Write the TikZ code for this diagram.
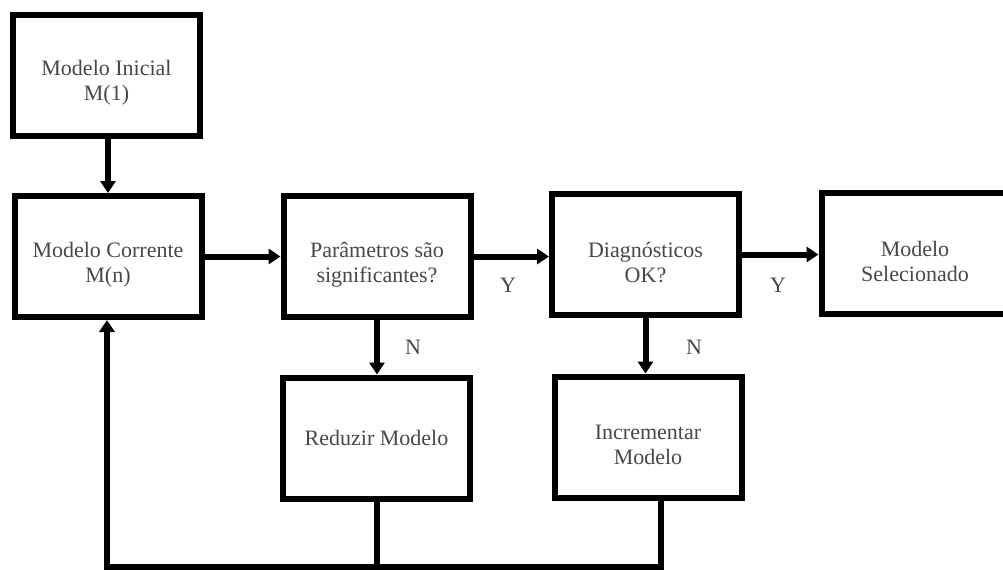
\documentclass[tikz,border=0pt]{standalone}
\usepackage{fontspec}
\setmainfont{Liberation Serif}
\usetikzlibrary{arrows.meta}

\begin{document}
\begin{tikzpicture}[x=0.5pt,y=-0.5pt,
   blk/.style={draw,line width=3pt,minimum width=93.5pt,minimum height=60.5pt,inner sep=0pt},
   txt/.style={align=center,text=black!72,font=\fontsize{11pt}{12.5pt}\selectfont},
   arr/.style={line width=3pt,-{Triangle[length=6pt,width=7.5pt]}},
   fb/.style={line width=3pt}]
   \useasboundingbox (0,0) rectangle (1003,569);
   \node[blk] (ini) at (106.5,75)  {};
   \node[blk] (cor) at (108,256.5) {};
   \node[blk] (par) at (377,256.5) {};
   \node[blk] (dia) at (645.5,254.5) {};
   \node[blk] (sel) at (915,253)   {};
   \node[blk] (red) at (376.5,438) {};
   \node[blk] (inc) at (648,437)   {};
   \node[txt] (iniT) at ([yshift=-4pt]ini.center) {Modelo Inicial\\M(1)};
   \node[txt] (corT) at ([yshift=-4pt]cor.center) {Modelo Corrente\\M(n)};
   \node[txt] (parT) at ([yshift=-4pt]par.center) {Parâmetros são\\significantes?};
   \node[txt] (diaT) at ([yshift=-4pt]dia.center) {Diagnósticos\\OK?};
   \node[txt] (selT) at ([yshift=-4pt]sel.center) {Modelo\\Selecionado};
   \node[txt] (redT) at (red.center) {Reduzir Modelo};
   \node[txt] (incT) at ([yshift=-4pt]inc.center) {Incrementar\\Modelo};
   \node[txt] (y1) at (508,285) {Y};
   \node[txt] (y2) at (778,285) {Y};
   \node[txt] (n1) at (413,347) {N};
   \node[txt] (n2) at (694,347) {N};
   \coordinate (fbL) at (107,567);
   \coordinate (fbR) at (661,567);
   \draw[arr] (ini.south -| cor.north) -- (cor.north);
   \draw[arr] (cor.east) -- (cor.east -| par.west);
   \draw[arr] (par.east) -- (par.east -| dia.west);
   \draw[arr] (dia.east) -- (dia.east -| sel.west);
   \draw[arr] (par.south) -- (par.south |- red.north);
   \draw[arr] (dia.south) -- (dia.south |- inc.north);
   \draw[fb] (red.south) -- (red.south |- fbL);
   \draw[arr] (inc.south -| fbR) -- (fbR) -- (fbL) -- (fbL |- cor.south);
\end{tikzpicture}
\end{document}
